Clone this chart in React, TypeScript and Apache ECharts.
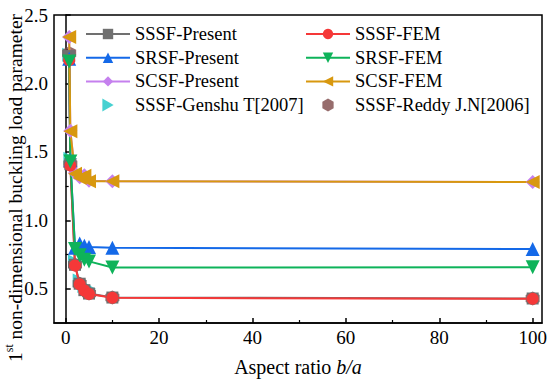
import React, { useEffect, useRef } from "react";
import * as echarts from "echarts";

const aspect = [0.75, 1, 2, 3, 4, 5, 10, 100];
const sssfPresent = [2.2, 1.41, 0.675, 0.537, 0.49, 0.465, 0.436, 0.429];
const sssfFEM = [2.17, 1.4, 0.67, 0.533, 0.487, 0.462, 0.434, 0.427];
const srsfPresent = [2.18, 1.44, 0.8, 0.83, 0.815, 0.805, 0.8, 0.79];
const srsfFEM = [2.16, 1.43, 0.79, 0.745, 0.712, 0.7, 0.655, 0.657];
const scsfPresent = [2.34, 1.655, 1.345, 1.315, 1.33, 1.29, 1.285, 1.28];
const scsfFEM = [2.34, 1.65, 1.34, 1.31, 1.325, 1.285, 1.285, 1.28];
const genshuX = [0.75, 1, 2, 3, 4, 5];
const genshu = [2.21, 1.45, 0.7, 0.56, 0.52, 0.5];
const reddyX = [0.75, 1, 2, 3, 5, 10, 100];
const reddy = [2.22, 1.41, 0.675, 0.537, 0.465, 0.436, 0.429];

const xMajor = [0, 20, 40, 60, 80, 100];
const xMinor = [10, 30, 50, 70, 90];
const yMajor = [0.5, 1.0, 1.5, 2.0, 2.5];
const yMinor = [0.75, 1.25, 1.75, 2.25];

const FONT = "Liberation Serif";
const HEX = "path://M50,0 L93.3,25 L93.3,75 L50,100 L6.7,75 L6.7,25 Z";
const RIGHT_TRI = "path://M0,0 L87,50 L0,100 Z";

const zip = (xs: number[], ys: number[]) => xs.map((x, i) => [x, ys[i]]);

export default function App() {
  const ref = useRef<HTMLDivElement>(null);
  useEffect(() => {
    if (!ref.current) return;
    const chart = echarts.init(ref.current, null, { renderer: "svg" });
    const lineSeries = (name: string, ys: number[], color: string, symbol: string, rotate = 0, size = 13) => ({
      name,
      type: "line",
      data: zip(aspect, ys),
      symbol,
      symbolSize: size,
      symbolRotate: rotate,
      lineStyle: { color, width: 2 },
      itemStyle: { color },
      color,
    });
    const legendText = { fontFamily: FONT, fontSize: 18.5, color: "#000", lineHeight: 20 };
    chart.setOption({
      animation: false,
      textStyle: { fontFamily: FONT },
      grid: { left: 54, right: 8, top: 15, bottom: 49, show: true, borderColor: "#000", borderWidth: 1.5, containLabel: false },
      xAxis: [
        {
          type: "value",
          min: -2.5,
          max: 102,
          axisLine: { lineStyle: { color: "#000", width: 1.5 } },
          axisTick: { inside: true, length: 5, customValues: xMajor, lineStyle: { color: "#000", width: 1.5 } },
          axisLabel: { customValues: xMajor, color: "#000", fontFamily: FONT, fontSize: 19, margin: 5 },
          splitLine: { show: false },
          name: "{n|Aspect ratio }{i|b/a}",
          nameLocation: "middle",
          nameGap: 34,
          nameTextStyle: {
            fontFamily: FONT,
            rich: {
              n: { fontFamily: FONT, fontSize: 20, color: "#000" },
              i: { fontFamily: FONT, fontSize: 20, color: "#000", fontStyle: "italic" },
            },
          },
        },
        {
          type: "value",
          min: -2.5,
          max: 102,
          position: "bottom",
          axisLine: { show: false },
          axisTick: { inside: true, length: 3, customValues: xMinor, lineStyle: { color: "#000", width: 1.2 } },
          axisLabel: { show: false },
          splitLine: { show: false },
        },
      ],
      yAxis: [
        {
          type: "value",
          min: 0.25,
          max: 2.5,
          axisLine: { show: true, lineStyle: { color: "#000", width: 1.5 } },
          axisTick: { show: true, inside: true, length: 5, customValues: yMajor, lineStyle: { color: "#000", width: 1.5 } },
          axisLabel: {
            customValues: yMajor,
            color: "#000",
            fontFamily: FONT,
            fontSize: 19,
            margin: 6,
            formatter: (v: number) => v.toFixed(1),
          },
          splitLine: { show: false },
        },
        {
          type: "value",
          min: 0.25,
          max: 2.5,
          position: "left",
          axisLine: { show: false },
          axisTick: { show: true, inside: true, length: 3, customValues: yMinor, lineStyle: { color: "#000", width: 1.2 } },
          axisLabel: { show: false },
          splitLine: { show: false },
        },
      ],
      legend: [
        {
          orient: "vertical",
          left: 80,
          top: 19,
          itemWidth: 44,
          itemHeight: 13,
          itemGap: 3.7,
          textStyle: legendText,
          data: [
            "SSSF-Present",
            "SRSF-Present",
            "SCSF-Present",
            { name: "SSSF-Genshu T[2007]", icon: RIGHT_TRI },
          ],
        },
        {
          orient: "vertical",
          left: 300,
          top: 19,
          itemWidth: 44,
          itemHeight: 13,
          itemGap: 3.7,
          textStyle: legendText,
          data: ["SSSF-FEM", "SRSF-FEM", "SCSF-FEM", "SSSF-Reddy J.N[2006]"],
        },
      ],
      graphic: [
        {
          type: "text",
          x: 14,
          y: 188,
          rotation: Math.PI / 2,
          style: {
            text: "{n|1}{s|st}{n| non-dimensional buckling load parameter}",
            align: "center",
            verticalAlign: "middle",
            rich: {
              n: { fontFamily: FONT, fontSize: 19.5, fill: "#000", lineHeight: 22, verticalAlign: "bottom" },
              s: { fontFamily: FONT, fontSize: 12, fill: "#000", lineHeight: 22, verticalAlign: "top" },
            },
          },
        },
      ],
      series: [
        lineSeries("SSSF-Present", sssfPresent, "#707070", "rect", 0, 12),
        lineSeries("SRSF-Present", srsfPresent, "#1469e8", "triangle", 0, 14),
        lineSeries("SCSF-Present", scsfPresent, "#c580ee", "diamond", 0, 14),
        {
          name: "SSSF-Genshu T[2007]",
          type: "scatter",
          data: zip(genshuX, genshu),
          symbol: RIGHT_TRI,
          symbolSize: 14,
          itemStyle: { color: "#18c6c6" },
          color: "#18c6c6",
        },
        lineSeries("SSSF-FEM", sssfFEM, "#f53838", "circle", 0, 12),
        lineSeries("SRSF-FEM", srsfFEM, "#0eb35a", "triangle", 180, 14),
        lineSeries("SCSF-FEM", scsfFEM, "#d8980f", "triangle", 90, 14),
        {
          name: "SSSF-Reddy J.N[2006]",
          type: "scatter",
          data: zip(reddyX, reddy),
          symbol: HEX,
          symbolSize: 14,
          itemStyle: { color: "#7d4848" },
          color: "#7d4848",
        },
      ],
    });
    return () => chart.dispose();
  }, []);
  return <div ref={ref} style={{ width: 550, height: 382, position: "absolute", left: 0, top: 0 }} />;
}
